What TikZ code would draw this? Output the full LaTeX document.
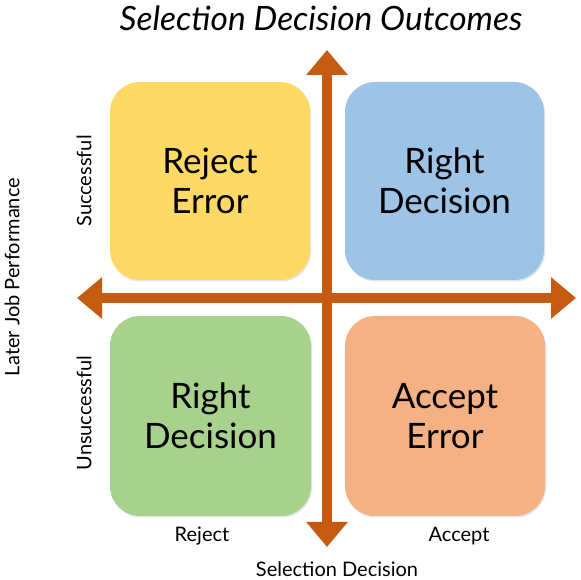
\documentclass[tikz,border=0pt]{standalone}
\usepackage{fontspec}
\setmainfont{Lato}
\usetikzlibrary{arrows.meta,shadows}
\definecolor{cyellow}{HTML}{FFD966}
\definecolor{cblue}{HTML}{9DC3E6}
\definecolor{cgreen}{HTML}{A9D18E}
\definecolor{corange}{HTML}{F4B183}
\definecolor{carrow}{HTML}{C55A11}
\tikzset{
  quad/.style={rounded corners=30pt, draw=none, inner sep=0pt,
    drop shadow={opacity=0.2, shadow xshift=1pt, shadow yshift=-1.5pt}},
  quadtext/.style={font=\fontsize{35}{40}\selectfont, align=center, text=black},
  axislabel/.style={font=\fontsize{20}{24}\selectfont, text=black},
  bigarrow/.style={draw=carrow, line width=10pt,
    {Triangle[length=25pt,width=40pt]}-{Triangle[length=25pt,width=40pt]}}
}
\begin{document}
\begin{tikzpicture}[x=1pt,y=1pt]
\useasboundingbox (0,0) rectangle (580,580);
% boxes
\fill[quad, cyellow] (110,300) rectangle (310,498);
\fill[quad, cblue] (345,300) rectangle (544,498);
\fill[quad, cgreen] (110,64) rectangle (311,264);
\fill[quad, corange] (345,64) rectangle (545,264);
\node[quadtext] (re) at (210,399) {Reject\\Error};
\node[quadtext] (rd1) at (444.5,399) {Right\\Decision};
\node[quadtext] (rd2) at (210.5,164) {Right\\Decision};
\node[quadtext] (ae) at (445,164) {Accept\\Error};
% axes
\coordinate (top) at (327,530);
\coordinate (bot) at (327,33);
\coordinate (lft) at (77,282);
\coordinate (rgt) at (576,282);
\draw[bigarrow] (bot) -- (top);
\draw[bigarrow] (lft) -- (rgt);
% labels
\node[font=\fontsize{33.5}{38}\selectfont\itshape] (title) at (321,562) {Selection Decision Outcomes};
\node[axislabel, rotate=90] (succ) at (84,399) {Successful};
\node[axislabel, rotate=90] (unsucc) at (84,167) {Unsuccessful};
\node[axislabel, rotate=90] (ljp) at (12,303) {Later Job Performance};
\node[axislabel] (rej) at (202,44) {Reject};
\node[axislabel] (acc) at (459,44) {Accept};
\node[axislabel] (sd) at (337,11) {Selection Decision};
\end{tikzpicture}
\end{document}
